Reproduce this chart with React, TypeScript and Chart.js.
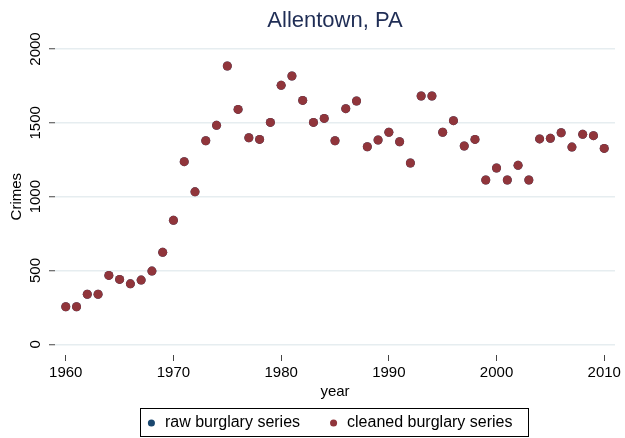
import React, { useEffect, useRef } from 'react';
import { Chart, registerables } from 'chart.js';

Chart.register(...registerables);

const FONT = "'Liberation Sans', Arial, Helvetica, sans-serif";

const years = [
  1960, 1961, 1962, 1963, 1964, 1965, 1966, 1967, 1968, 1969,
  1970, 1971, 1972, 1973, 1974, 1975, 1976, 1977, 1978, 1979,
  1980, 1981, 1982, 1983, 1984, 1985, 1986, 1987, 1988, 1989,
  1990, 1991, 1992, 1993, 1994, 1995, 1996, 1997, 1998, 1999,
  2000, 2001, 2002, 2003, 2004, 2005, 2006, 2007, 2008, 2009, 2010,
];

const rawBurglary = [
  255, 255, 339, 339, 467, 440, 410, 435, 496, 623,
  840, 1237, 1033, 1379, 1483, 1885, 1591, 1399, 1388, 1503,
  1754, 1817, 1652, 1503, 1530, 1379, 1596, 1648, 1338, 1384,
  1436, 1372, 1228, 1682, 1682, 1436, 1515, 1343, 1388, 1113,
  1194, 1113, 1212, 1113, 1391, 1395, 1433, 1336, 1422, 1413, 1327,
];

const cleanedBurglary = [
  255, 255, 339, 339, 467, 440, 410, 435, 496, 623,
  840, 1237, 1033, 1379, 1483, 1885, 1591, 1399, 1388, 1503,
  1754, 1817, 1652, 1503, 1530, 1379, 1596, 1648, 1338, 1384,
  1436, 1372, 1228, 1682, 1682, 1436, 1515, 1343, 1388, 1113,
  1194, 1113, 1212, 1113, 1391, 1395, 1433, 1336, 1422, 1413, 1327,
];

const xTicks = [1960, 1970, 1980, 1990, 2000, 2010];
const yTicks = [0, 500, 1000, 1500, 2000];

const titleText = 'Allentown, PA';
const xTitle = 'year';
const yTitle = 'Crimes';
const seriesLabels = ['raw burglary series', 'cleaned burglary series'];

const NAVY = '#1a476f';
const MAROON = '#90353b';

const customText = {
  id: 'customText',
  afterDraw(chart: any) {
    const ctx = chart.ctx as CanvasRenderingContext2D;
    const ys = chart.scales.y;
    ctx.save();
    ctx.fillStyle = '#000';
    ctx.textAlign = 'center';
    ctx.textBaseline = 'middle';
    ctx.font = `15px ${FONT}`;
    ys.ticks.forEach((t: any) => {
      const py = ys.getPixelForValue(t.value);
      ctx.save();
      ctx.translate(36, py);
      ctx.rotate(-Math.PI / 2);
      ctx.fillText(String(t.value), 0, 0);
      ctx.restore();
    });
    const mid = (ys.getPixelForValue(yTicks[0]) + ys.getPixelForValue(yTicks[yTicks.length - 1])) / 2;
    ctx.save();
    ctx.translate(17, mid);
    ctx.rotate(-Math.PI / 2);
    ctx.fillText(yTitle, 0, 0);
    ctx.restore();

    const lg = chart.legend;
    const hb = lg && lg.legendHitBoxes;
    if (hb && hb.length) {
      const first = hb[0];
      const last = hb[hb.length - 1];
      const cy = first.top + 8;
      const l = Math.round(first.left - 5.5) + 0.5;
      const r = Math.round(last.left + last.width + 16) + 0.5;
      const t = Math.round(cy - 15.5) + 0.5;
      const b = Math.round(cy + 13) + 0.5;
      ctx.strokeStyle = '#000';
      ctx.lineWidth = 1;
      ctx.strokeRect(l, t, r - l, b - t);
    }
    ctx.restore();
  },
};

export default function App() {
  const ref = useRef<HTMLCanvasElement | null>(null);

  useEffect(() => {
    if (!ref.current) return;
    const chart = new Chart(ref.current, {
      type: 'scatter',
      data: {
        datasets: [
          {
            label: seriesLabels[0],
            data: years.map((x, i) => ({ x, y: rawBurglary[i] })),
            backgroundColor: NAVY,
            borderColor: NAVY,
            pointRadius: 4.5,
            pointBorderWidth: 0,
            borderWidth: 0,
            showLine: false,
            order: 2,
          },
          {
            label: seriesLabels[1],
            data: years.map((x, i) => ({ x, y: cleanedBurglary[i] })),
            backgroundColor: MAROON,
            borderColor: MAROON,
            pointRadius: 4.5,
            pointBorderWidth: 0,
            borderWidth: 0,
            showLine: false,
            order: 1,
          },
        ],
      },
      options: {
        animation: false,
        responsive: false,
        events: [],
        layout: { padding: { left: 43.4, right: 10, top: 0, bottom: 0 } },
        plugins: {
          tooltip: { enabled: false },
          title: {
            display: true,
            text: titleText,
            fullSize: false,
            color: '#1f2d55',
            font: { family: FONT, size: 22, weight: 'normal' },
            padding: { top: 8, bottom: 14.6 },
          },
          legend: {
            display: true,
            position: 'bottom',
            fullSize: true,
            labels: {
              usePointStyle: true,
              pointStyle: 'circle',
              boxWidth: 11,
              boxHeight: 5,
              padding: 28,
              color: '#000',
              font: { family: FONT, size: 16 },
              sort: (a: any, b: any) => a.datasetIndex - b.datasetIndex,
            },
          },
        },
        scales: {
          x: {
            type: 'linear',
            min: 1959,
            max: 2011,
            afterBuildTicks: (s: any) => {
              s.ticks = xTicks.map((v) => ({ value: v }));
            },
            afterFit: (s: any) => {
              s.height = 32;
            },
            border: { display: false },
            grid: {
              drawOnChartArea: false,
              drawTicks: true,
              tickLength: 6,
              tickColor: '#444',
              tickWidth: 1,
            },
            ticks: {
              color: '#000',
              padding: 3,
              maxRotation: 0,
              autoSkip: false,
              font: { family: FONT, size: 15 },
              callback: (v: any) => String(v),
            },
            title: {
              display: true,
              text: xTitle,
              color: '#000',
              font: { family: FONT, size: 15 },
              padding: { top: 0, bottom: -14 },
            },
          },
          y: {
            type: 'linear',
            min: -72,
            max: 2000,
            afterBuildTicks: (s: any) => {
              s.ticks = yTicks.map((v) => ({ value: v }));
            },
            afterFit: (s: any) => {
              s.width = 11.6;
            },
            border: { display: false },
            grid: {
              color: '#e6edf0',
              lineWidth: 1.5,
              drawTicks: true,
              tickLength: 6,
              tickColor: '#444',
              tickWidth: 1,
            },
            ticks: { display: false },
            title: { display: false },
          },
        },
      },
      plugins: [customText],
    });
    return () => chart.destroy();
  }, []);

  return (
    <div
      style={{
        position: 'fixed',
        left: 0,
        top: 0,
        width: 625,
        height: 438,
        overflow: 'hidden',
        background: '#fff',
      }}
    >
      <canvas ref={ref} width={625} height={441} style={{ display: 'block' }} />
    </div>
  );
}
